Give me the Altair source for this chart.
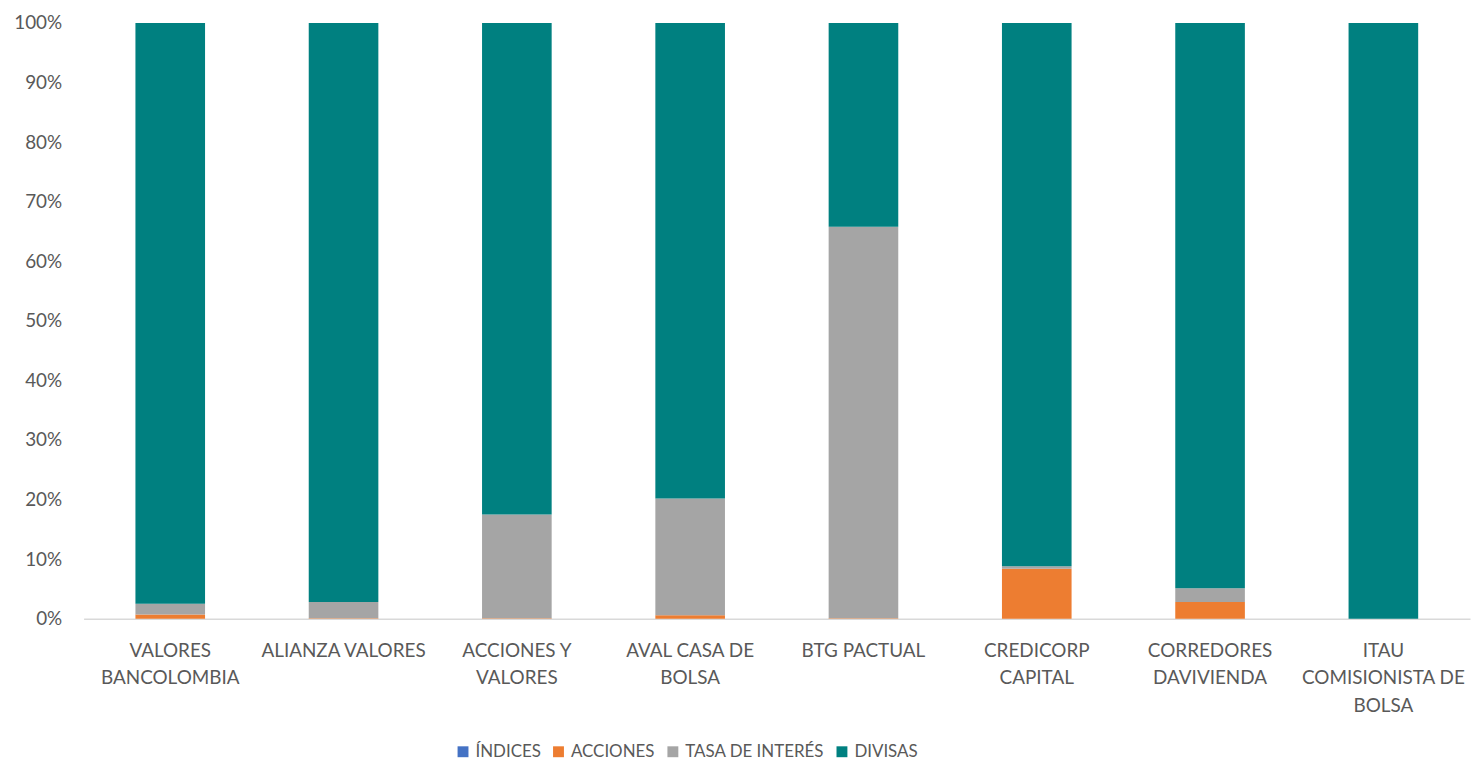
import altair as alt
import pandas as pd

categories = ["VALORES BANCOLOMBIA", "ALIANZA VALORES", "ACCIONES Y VALORES",
              "AVAL CASA DE BOLSA", "BTG PACTUAL", "CREDICORP CAPITAL",
              "CORREDORES DAVIVIENDA", "ITAU COMISIONISTA DE BOLSA"]
label_lines = [["VALORES", "BANCOLOMBIA"], ["ALIANZA VALORES"], ["ACCIONES Y", "VALORES"],
               ["AVAL CASA DE", "BOLSA"], ["BTG PACTUAL"], ["CREDICORP", "CAPITAL"],
               ["CORREDORES", "DAVIVIENDA"], ["ITAU", "COMISIONISTA DE", "BOLSA"]]
series = ["ÍNDICES", "ACCIONES", "TASA DE INTERÉS", "DIVISAS"]
colors = ["#4472C4", "#ED7D31", "#A5A5A5", "#008080"]

indices = [0.0, 0.0, 0.0, 0.0, 0.0, 0.0, 0.0, 0.0]
acciones = [0.7, 0.1, 0.1, 0.6, 0.1, 8.4, 2.8, 0.0]
tasa = [1.8, 2.7, 17.4, 19.6, 65.7, 0.4, 2.3, 0.0]
divisas = [97.5, 97.2, 82.5, 79.8, 34.2, 91.2, 94.9, 100.0]

rows = []
for s_i, (s, vals) in enumerate(zip(series, [indices, acciones, tasa, divisas])):
    for c, v in zip(categories, vals):
        rows.append({"category": c, "series": s, "value": v, "order": s_i})
df = pd.DataFrame(rows)

label_expr = ""
for c, lines in zip(categories, label_lines):
    arr = "[" + ",".join("'" + l + "'" for l in lines) + "]"
    label_expr += f"datum.label == '{c}' ? {arr} : "
label_expr += "datum.label"

FONT = "Lato"
TXT = "#595959"
FS = 19

chart = alt.Chart(df).mark_bar(size=70).encode(
    x=alt.X("category:N", sort=categories, title=None,
            scale=alt.Scale(paddingInner=0.0, paddingOuter=0.0),
            axis=alt.Axis(labelAngle=0, labelExpr=label_expr, ticks=False,
                          domainColor="#D9D9D9", domainWidth=1.5,
                          labelPadding=23, labelLineHeight=27.5,
                          labelFontSize=FS, labelColor=TXT, labelFont=FONT)),
    y=alt.Y("value:Q", stack="normalize", title=None,
            scale=alt.Scale(domain=[0, 1]),
            axis=alt.Axis(format=".0%", values=[i / 10 for i in range(11)],
                          domain=False, ticks=False, grid=False,
                          labelPadding=22, labelFontSize=FS, labelColor=TXT,
                          labelFont=FONT)),
    color=alt.Color("series:N", sort=series,
                    scale=alt.Scale(domain=series, range=colors),
                    legend=alt.Legend(title=None, orient="none", direction="horizontal",
                                      legendX=373, legendY=724,
                                      symbolType="square", symbolSize=120,
                                      symbolStrokeWidth=0, labelFontSize=17,
                                      labelColor=TXT, labelFont=FONT,
                                      columnPadding=9, labelOffset=4)),
    order=alt.Order("order:Q"),
).properties(
    width=1394, height=599,
    autosize=alt.AutoSizeParams(type="none"),
    padding={"left": 76, "top": 13, "right": 5, "bottom": 144},
).configure(background="white").configure_view(stroke=None)

chart.save("out.html", embed_options={"renderer": "svg", "actions": False})
